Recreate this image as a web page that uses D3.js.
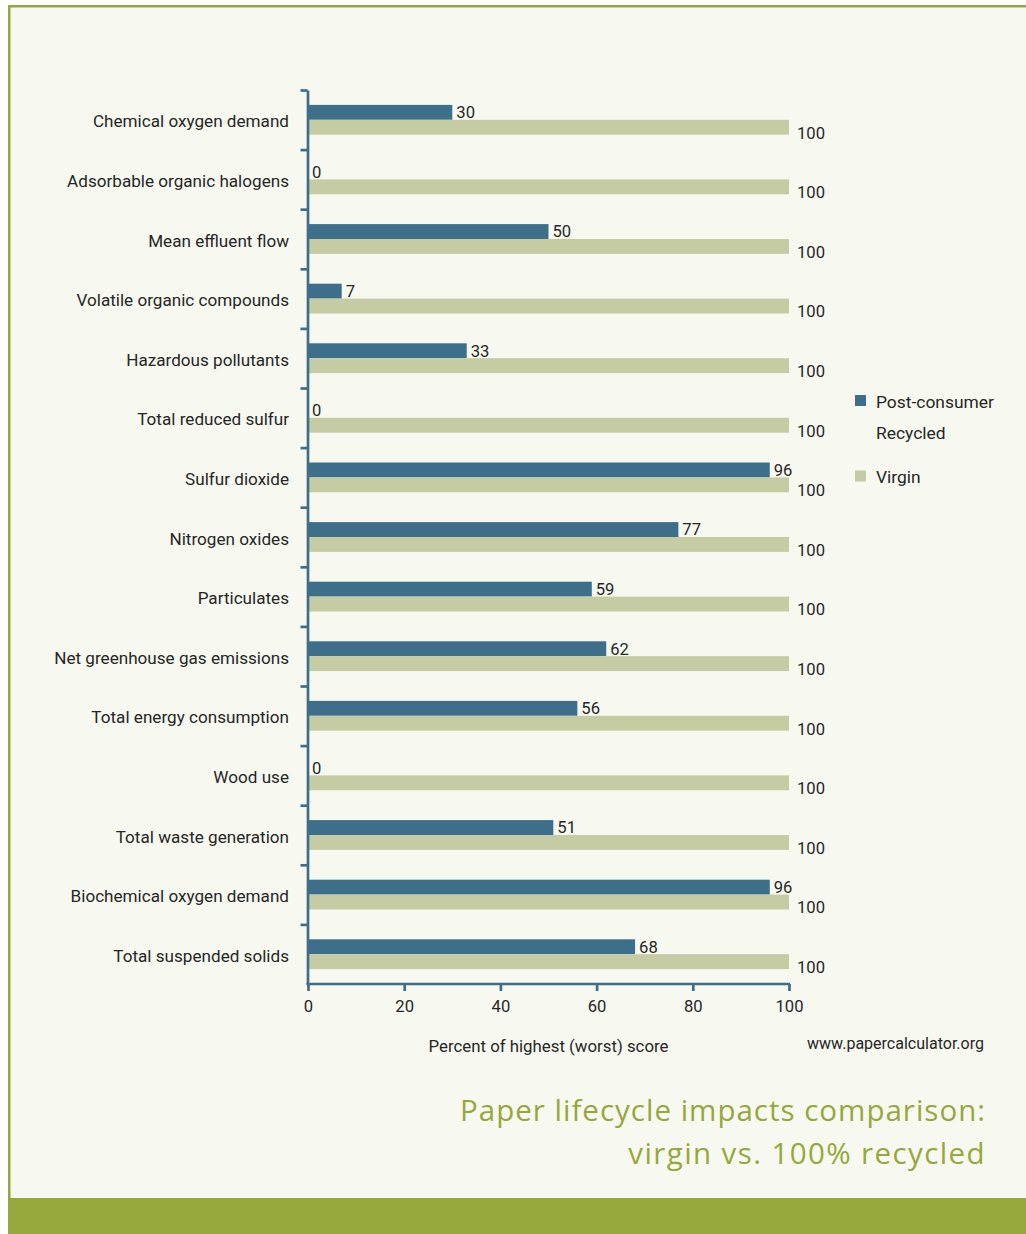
<!DOCTYPE html>
<html>
<head>
<meta charset="utf-8">
<script src="https://cdn.jsdelivr.net/npm/d3@7"></script>
<style>
  html, body { margin: 0; padding: 0; background: #ffffff; }
  svg { display: block; }
  .lbl { font-family: Roboto, "Liberation Sans", "DejaVu Sans Condensed", sans-serif; fill: #262626; }
</style>
</head>
<body>
<svg id="chart" width="1026" height="1234"></svg>
<script>
// Impact categories, top to bottom
const categories = [
  "Chemical oxygen demand",
  "Adsorbable organic halogens",
  "Mean effluent flow",
  "Volatile organic compounds",
  "Hazardous pollutants",
  "Total reduced sulfur",
  "Sulfur dioxide",
  "Nitrogen oxides",
  "Particulates",
  "Net greenhouse gas emissions",
  "Total energy consumption",
  "Wood use",
  "Total waste generation",
  "Biochemical oxygen demand",
  "Total suspended solids"
];

// Percent of highest (worst) score
const recycledValues = [30, 0, 50, 7, 33, 0, 96, 77, 59, 62, 56, 0, 51, 96, 68];
const virginValues   = [100, 100, 100, 100, 100, 100, 100, 100, 100, 100, 100, 100, 100, 100, 100];

const seriesKeys   = ["recycled", "virgin"];
const seriesNames  = [["Post-consumer", "Recycled"], ["Virgin"]];
const xTickValues  = [0, 20, 40, 60, 80, 100];

const COLORS = { recycled: "#3d6e8a", virgin: "#c5cca3" };
const AXIS = "#3d6e8a";
const GREEN = "#96a83c";
const PANEL = "#f7f9f0";

const rows = categories.map((c, i) => ({ category: c, recycled: recycledValues[i], virgin: virginValues[i] }));

const svg = d3.select("#chart");

// Font size that makes a sample string span a given width
function fitSize(sample, width) {
  const t = svg.append("text").attr("class", "lbl").style("font-size", "100px").text(sample);
  const w = t.node().getComputedTextLength();
  t.remove();
  return (100 * width / w).toFixed(2) + "px";
}
const catSize    = fitSize("Chemical oxygen demand", 196);
const valSize    = fitSize("100", 28);
const titleSize  = fitSize("Percent of highest (worst) score", 240);
const srcSize    = fitSize("www.papercalculator.org", 177);
const legendSize = fitSize("Post-consumer", 118);

// Panel with green frame and footer band
svg.append("rect").attr("x", 8).attr("y", 5).attr("width", 1018).attr("height", 1229).attr("fill", PANEL);
svg.append("rect").attr("x", 8).attr("y", 5).attr("width", 1018).attr("height", 2.5).attr("fill", GREEN);
svg.append("rect").attr("x", 8).attr("y", 5).attr("width", 2.5).attr("height", 1229).attr("fill", GREEN);
svg.append("rect").attr("x", 8).attr("y", 1198).attr("width", 1018).attr("height", 36).attr("fill", GREEN);

// Scales
const plotTop = 90, plotBottom = 984;
const x = d3.scaleLinear().domain([0, 100]).range([308, 789]);
const y = d3.scaleBand().domain(categories).range([plotTop, plotBottom]).padding(0);
const ySub = d3.scaleBand().domain(seriesKeys).range([0, y.bandwidth()]).paddingInner(0).paddingOuter(1);

// Bars
const g = svg.append("g");
const groups = g.selectAll("g.row").data(rows).join("g")
  .attr("class", "row")
  .attr("transform", d => `translate(0,${y(d.category)})`);

groups.selectAll("rect").data(d => seriesKeys.map(k => ({ key: k, value: d[k] }))).join("rect")
  .attr("x", x(0))
  .attr("y", d => ySub(d.key))
  .attr("width", d => x(d.value) - x(0))
  .attr("height", ySub.bandwidth())
  .attr("fill", d => COLORS[d.key]);

// Value labels
groups.selectAll("text.val").data(d => seriesKeys.map(k => ({ key: k, value: d[k] }))).join("text")
  .attr("class", "val lbl")
  .attr("x", d => x(d.value) + (d.key === "virgin" ? 8 : 4))
  .attr("y", d => ySub(d.key) + ySub.bandwidth() + (d.key === "virgin" ? 4 : -1.5))
  .style("font-size", valSize)
  .text(d => d.value);

// Category labels
svg.append("g").selectAll("text").data(categories).join("text")
  .attr("class", "lbl")
  .attr("x", 289)
  .attr("y", d => y(d) + y.bandwidth() / 2 + 7.5)
  .attr("text-anchor", "end")
  .style("font-size", catSize)
  .text(d => d);

// Y axis: ticks at category boundaries
const yEdges = d3.scaleLinear().domain([0, categories.length]).range([plotTop, plotBottom]);
const yAxis = svg.append("g")
  .attr("transform", `translate(${x(0) - 0.5},0)`)
  .call(d3.axisLeft(yEdges).tickValues(d3.range(0, categories.length)).tickSize(7).tickSizeOuter(0).tickFormat(""));
yAxis.select(".domain").attr("stroke", AXIS).attr("stroke-width", 2.7);
yAxis.selectAll(".tick line").attr("stroke", AXIS).attr("stroke-width", 2.7);

// X axis
const xAxis = svg.append("g")
  .attr("transform", `translate(0,${plotBottom})`)
  .call(d3.axisBottom(x).tickValues(xTickValues).tickSize(7).tickSizeOuter(0).tickPadding(9));
xAxis.select(".domain").attr("stroke", AXIS).attr("stroke-width", 2.7).attr("d", `M${x(0) - 1.5},0H${x(100) + 1}`);
xAxis.selectAll(".tick line").attr("stroke", AXIS).attr("stroke-width", 2.7);
xAxis.selectAll(".tick text")
  .attr("class", "lbl")
  .attr("fill", "#262626")
  .style("font-size", valSize);

// Axis title and source
svg.append("text").attr("class", "lbl")
  .attr("x", x(50)).attr("y", 1051.5).attr("text-anchor", "middle")
  .style("font-size", titleSize)
  .text("Percent of highest (worst) score");

svg.append("text").attr("class", "lbl")
  .attr("x", 984).attr("y", 1049).attr("text-anchor", "end")
  .style("font-size", srcSize)
  .text("www.papercalculator.org");

// Legend
const legend = svg.append("g");
const legendTops = [395, 470.5];
seriesKeys.forEach((k, i) => {
  legend.append("rect")
    .attr("x", 855).attr("y", legendTops[i]).attr("width", 11).attr("height", 11)
    .attr("fill", COLORS[k]);
  seriesNames[i].forEach((line, j) => {
    legend.append("text").attr("class", "lbl")
      .attr("x", 876).attr("y", legendTops[i] + 12.5 + j * 31.6)
      .style("font-size", legendSize)
      .text(line);
  });
});

// Title
const titleLines = ["Paper lifecycle impacts comparison:", "virgin vs. 100% recycled"];
svg.append("g").selectAll("text").data(titleLines).join("text")
  .attr("x", 986)
  .attr("y", (d, i) => 1120.7 + i * 43.3)
  .attr("text-anchor", "end")
  .style("font-family", "'Open Sans', 'Noto Sans', sans-serif")
  .style("font-size", "29.5px")
  .style("letter-spacing", (d, i) => i === 0 ? "1px" : "1.4px")
  .attr("fill", GREEN)
  .text(d => d);
</script>
</body>
</html>
